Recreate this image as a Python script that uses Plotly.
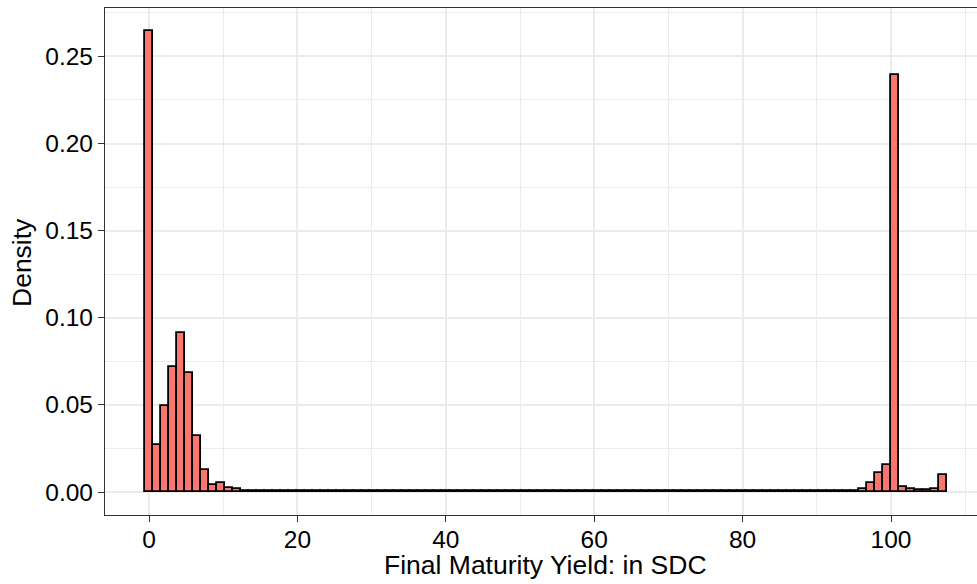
import plotly.graph_objects as go

# Histogram of final maturity yields (100 bins spanning the data range 0..107)
data_min = 0.0
data_max = 107.0
n_bins = 100

# Density of each bin, left to right
density = [
    0.2646, 0.0270, 0.0494, 0.0716, 0.0915, 0.0685, 0.0321, 0.0126, 0.0040, 0.0052,
    0.0025, 0.0015, 0.0008, 0.0005, 0.0004, 0.0003, 0.0003, 0.0003, 0.0003, 0.0003,
    0.0003, 0.0003, 0.0003, 0.0003, 0.0003, 0.0003, 0.0003, 0.0003, 0.0003, 0.0003,
    0.0003, 0.0003, 0.0003, 0.0003, 0.0003, 0.0003, 0.0003, 0.0003, 0.0003, 0.0003,
    0.0003, 0.0003, 0.0003, 0.0003, 0.0003, 0.0003, 0.0003, 0.0003, 0.0003, 0.0003,
    0.0003, 0.0003, 0.0003, 0.0003, 0.0003, 0.0003, 0.0003, 0.0003, 0.0003, 0.0003,
    0.0003, 0.0003, 0.0003, 0.0003, 0.0003, 0.0003, 0.0003, 0.0003, 0.0003, 0.0003,
    0.0003, 0.0003, 0.0003, 0.0003, 0.0003, 0.0003, 0.0003, 0.0003, 0.0003, 0.0003,
    0.0003, 0.0003, 0.0003, 0.0003, 0.0003, 0.0004, 0.0004, 0.0005, 0.0008, 0.0018,
    0.0050, 0.0107, 0.0155, 0.2394, 0.0030, 0.0018, 0.0014, 0.0014, 0.0015, 0.0098,
]

x_tickvals = [0, 20, 40, 60, 80, 100]
y_tickvals = [0.00, 0.05, 0.10, 0.15, 0.20, 0.25]
y_ticktext = ["0.00", "0.05", "0.10", "0.15", "0.20", "0.25"]

x_title = "Final Maturity Yield: in SDC"
y_title = "Density"

# Bin layout: first bin centred on the minimum, last on the maximum
bin_width = (data_max - data_min) / (n_bins - 1)
bin_centers = [data_min + k * bin_width for k in range(n_bins)]

FONT = "Liberation Sans, Arial, Helvetica, sans-serif"
GRID = "#EBEBEB"
BORDER = "#333333"

fig = go.Figure(
    go.Bar(
        x=bin_centers,
        y=density,
        width=bin_width,
        marker=dict(color="#F8766D", line=dict(color="black", width=1.8)),
        hoverinfo="x+y",
    )
)

fig.update_layout(
    width=977,
    height=584,
    margin=dict(l=105, r=0, t=8, b=69),
    paper_bgcolor="white",
    plot_bgcolor="white",
    bargap=0,
    showlegend=False,
    font=dict(family=FONT, color="black"),
)

fig.update_xaxes(
    range=[-5.93, 111.59],
    tickvals=x_tickvals,
    ticks="outside",
    ticklen=6,
    tickwidth=1.4,
    tickcolor=BORDER,
    tickfont=dict(size=24.5, color="black"),
    ticklabelstandoff=-4,
    showgrid=True,
    gridcolor=GRID,
    gridwidth=1.6,
    minor=dict(dtick=10, tick0=10, showgrid=True, gridcolor=GRID, gridwidth=0.8),
    showline=True,
    linecolor=BORDER,
    linewidth=1.2,
    mirror=True,
    zeroline=False,
)

fig.update_yaxes(
    range=[-0.0132, 0.2778],
    tickvals=y_tickvals,
    ticktext=y_ticktext,
    ticks="outside",
    ticklen=6,
    tickwidth=1.4,
    tickcolor=BORDER,
    tickfont=dict(size=24.5, color="black"),
    showgrid=True,
    gridcolor=GRID,
    gridwidth=1.6,
    minor=dict(dtick=0.05, tick0=0.025, showgrid=True, gridcolor=GRID, gridwidth=0.8),
    showline=True,
    linecolor=BORDER,
    linewidth=1.2,
    mirror=False,
    zeroline=False,
)

fig.add_annotation(
    text=x_title, xref="paper", yref="paper", x=0.5052, y=-0.0986,
    xanchor="center", yanchor="middle", showarrow=False,
    font=dict(family=FONT, size=26.5, color="black"),
)
fig.add_annotation(
    text=y_title, xref="paper", yref="paper", x=-0.0952, y=0.499,
    xanchor="center", yanchor="middle", textangle=-90, showarrow=False,
    font=dict(family=FONT, size=26.5, color="black"),
)

fig.write_html("out.html")
